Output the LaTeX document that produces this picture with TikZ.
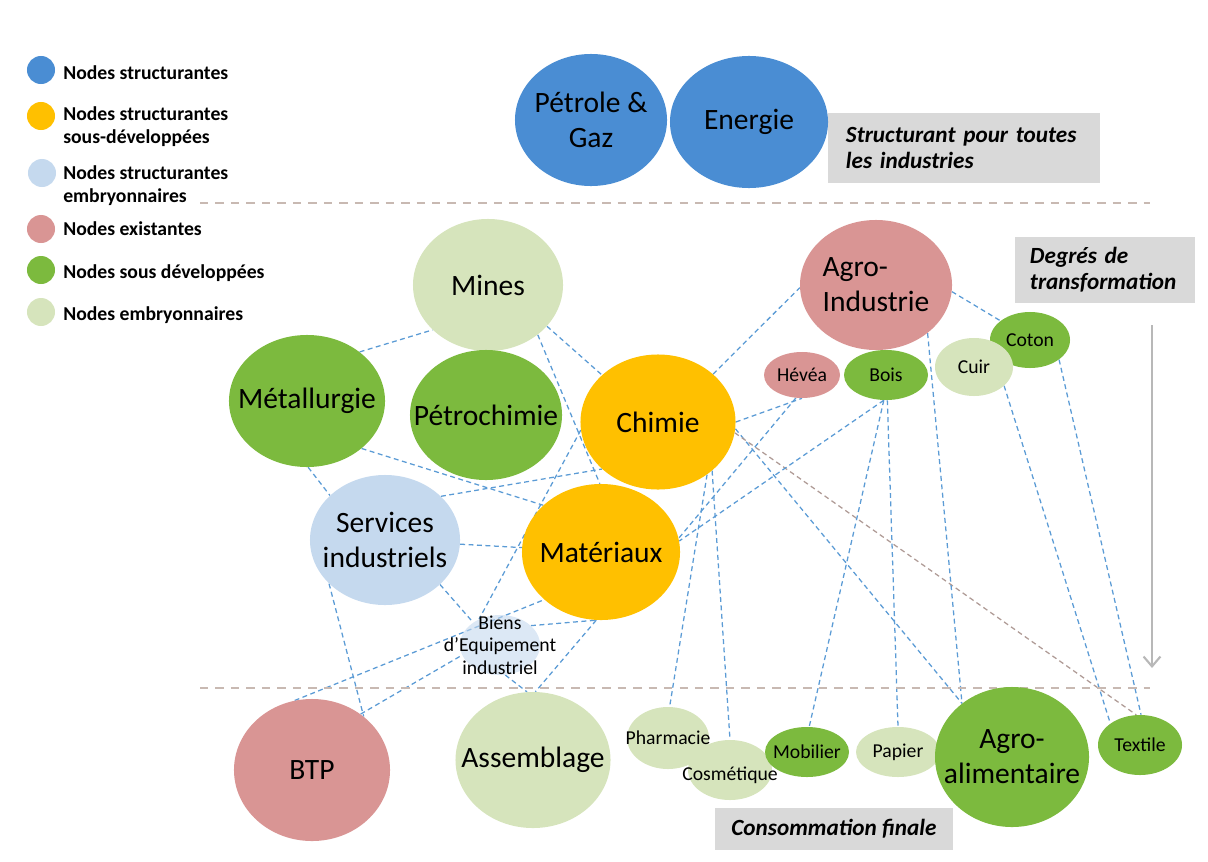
\documentclass[tikz,border=0pt]{standalone}
\usepackage{fontspec}
\setmainfont{Carlito}
\usepackage{tikz}
\usetikzlibrary{arrows.meta,shapes.geometric,backgrounds}

\definecolor{cblue}{RGB}{74,141,211}
\definecolor{cyellow}{RGB}{255,192,0}
\definecolor{clightblue}{RGB}{197,217,238}
\definecolor{cpink}{RGB}{217,149,148}
\definecolor{cgreen}{RGB}{124,186,62}
\definecolor{cpale}{RGB}{214,228,188}
\definecolor{linkblue}{RGB}{91,155,213}
\definecolor{linkbrown}{RGB}{175,155,150}
\definecolor{sepcol}{RGB}{200,185,178}

\tikzset{
  blob/.style={ellipse, fill=#1, inner sep=0pt},
  big/.style={font=\fontsize{21}{25}\selectfont, align=center},
  small/.style={font=\fontsize{14}{16}\selectfont, align=center},
  legtext/.style={font=\bfseries\fontsize{14}{16.3}\selectfont, anchor=west, align=left, inner sep=0pt},
  note/.style={fill=black!15, font=\bfseries\itshape\fontsize{16.5}{18.5}\selectfont, align=left, inner xsep=0.4cm},
  link/.style={draw=linkblue, line width=0.9pt, dash pattern=on 3.5pt off 2.5pt},
  sep/.style={draw=sepcol, line width=2pt, dash pattern=on 6pt off 5pt},
}

\begin{document}
\begin{tikzpicture}[x=0.025cm, y=-0.025cm]
\useasboundingbox (0,0) rectangle (1208,861);

% Legend
\fill[cblue] (41,70) circle (0.35cm);
\node[legtext] (lg1) at (63,73) {Nodes structurantes};
\fill[cyellow] (41,116) circle (0.35cm);
\node[legtext] (lg2) at (63,127) {Nodes structurantes\\sous-développées};
\fill[clightblue] (42,173) circle (0.35cm);
\node[legtext] (lg3) at (63,186) {Nodes structurantes\\embryonnaires};
\fill[cpink] (41,229) circle (0.35cm);
\node[legtext] (lg4) at (63,229) {Nodes existantes};
\fill[cgreen] (41,270) circle (0.35cm);
\node[legtext] (lg5) at (63,273) {Nodes sous développées};
\fill[cpale] (41,312) circle (0.35cm);
\node[legtext] (lg6) at (63,315) {Nodes embryonnaires};

% Levels
\draw[sep] (200,203) -- (1150,203);
\draw[sep] (200,688) -- (1150,688);

\node[note, minimum width=6.8cm, minimum height=1.75cm, text width=5.9cm] (struct) at (964,148) {Structurant pour toutes\\les industries};
\node[note, minimum width=4.5cm, minimum height=1.625cm, text width=3.75cm, inner xsep=0.375cm] (degres) at (1105,270) {Degrés de\\transformation};
\node[note, align=center, minimum width=5.8cm, minimum height=1.05cm] (conso) at (834,829) {Consommation finale};

\coordinate (dtop) at (1152,325);
\coordinate (dbot) at (1152,668);
\draw[black!28, line width=1.5pt, -{Straight Barb[length=7pt,width=12pt]}] (dtop) -- (dbot);

% Structuring nodes
\node[blob=cblue, minimum width=3.8cm, minimum height=3.3cm, label={[big]center:Pétrole \&\\Gaz}] (petrole) at (591,120) {};
\node[blob=cblue, minimum width=3.95cm, minimum height=3.3cm, label={[big]center:Energie}] (energie) at (749,122) {};

% Transformation
\node[blob=cpale, minimum width=3.75cm, minimum height=3.3cm, label={[big]center:Mines}] (mines) at (488,285) {};
\node[blob=cgreen, minimum width=3.9cm, minimum height=3.3cm, label={[big]center:Métallurgie}] (metal) at (307,401) {};
\node[blob=cgreen, minimum width=3.8cm, minimum height=3.25cm, label={[big]center:Pétrochimie}] (petrochimie) at (486,415) {};
\node[blob=cyellow, minimum width=3.875cm, minimum height=3.375cm, label={[big]center:Chimie}] (chimie) at (658,422) {};
\node[blob=clightblue, minimum width=3.75cm, minimum height=3.25cm, label={[big]center:Services\\industriels}] (services) at (385,540) {};
\node[blob=cyellow, minimum width=3.95cm, minimum height=3.4cm, label={[big]center:Matériaux}] (materiaux) at (601,552) {};
\node[blob=clightblue, fill opacity=0.6, minimum width=2cm, minimum height=1.5cm, label={[small, text opacity=1]center:Biens\\d’Equipement\\industriel}] (biens) at (500,645) {};
\node[blob=cpink, minimum width=3.8cm, minimum height=3.25cm, label={[big, align=left]center:Agro-\\Industrie}] (agroind) at (876,285) {};
\node[blob=cpink, minimum width=1.9cm, minimum height=1.15cm, label={[small]center:Hévéa}] (hevea) at (802,375) {};
\node[blob=cgreen, minimum width=2.1cm, minimum height=1.25cm, label={[small]center:Bois}] (bois) at (886,375) {};
\node[blob=cgreen, minimum width=2cm, minimum height=1.4cm, label={[small]center:Coton}] (coton) at (1030,340) {};
\node[blob=cpale, minimum width=1.95cm, minimum height=1.45cm, label={[small]center:Cuir}] (cuir) at (974,367) {};

% Final consumption
\node[blob=cpink, minimum width=3.9cm, minimum height=3.55cm, label={[big]center:BTP}] (btp) at (312,770) {};
\node[blob=cpale, minimum width=3.875cm, minimum height=3.4cm, label={[big]center:Assemblage}] (assemblage) at (533,760) {};
\node[blob=cpale, minimum width=2.05cm, minimum height=1.55cm, label={[small]center:Pharmacie}] (pharmacie) at (668,738) {};
\node[blob=cpale, minimum width=2.1cm, minimum height=1.5cm, label={[small, yshift=-3.5pt]center:Cosmétique}] (cosmetique) at (730,770) {};
\node[blob=cgreen, minimum width=2.1cm, minimum height=1.25cm, label={[small]center:Mobilier}] (mobilier) at (807,752) {};
\node[blob=cpale, minimum width=2.1cm, minimum height=1.25cm, label={[small]center:Papier}] (papier) at (898,752) {};
\node[blob=cgreen, minimum width=3.85cm, minimum height=3.5cm, label={[big]center:Agro-\\alimentaire}] (agroalim) at (1012,757) {};
\node[blob=cgreen, minimum width=2.1cm, minimum height=1.5cm, label={[small]center:Textile}] (textile) at (1140,745) {};

% Links
\begin{scope}[on background layer]
\draw[link] (metal.43) -- (mines.219);
\draw[link] (metal.-89) -- (services.141);
\draw[link] (metal.-41) -- (materiaux.141);
\draw[link] (mines.-35) -- (chimie.140);
\draw[link] (mines.-45) -- (materiaux.91);
\draw[link] (services.38) -- (chimie.220);
\draw[link] (services) -- (materiaux);
\draw[link] (services.-39) -- (biens.140);
\draw[link] (services.218) -- (btp.46);
\draw[link] (chimie.186) -- (biens.129);
\draw[link] (biens.32) -- (materiaux.266);
\draw[link] (biens.-80) -- (assemblage.95);
\draw[link] (btp.49) -- (biens.195);
\draw[link] (btp.104) -- (materiaux.220);
\draw[link] (materiaux.266) -- (assemblage.88);
\draw[link] (chimie.41) -- (agroind.182);
\draw[link] (chimie.0) -- (hevea.270);
\draw[link] (chimie.-47) -- (pharmacie.87);
\draw[link] (chimie.-42) -- (cosmetique.90);
\draw[link] (chimie.-5) -- (agroalim.133);
\draw[link, draw=linkbrown] (chimie.-8) -- (textile.97);
\draw[link] (hevea.255) -- (materiaux.10);
\draw[link] (bois.265) -- (materiaux.8);
\draw[link] (bois.-95) -- (mobilier.85);
\draw[link] (bois.-87) -- (papier.90);
\draw[link] (agroind.-5) -- (coton.147);
\draw[link] (agroind.-43) -- (agroalim.133);
\draw[link] (cuir.-32) -- (textile.144);
\draw[link] (coton.-34) -- (textile.88);
\end{scope}
\end{tikzpicture}
\end{document}
